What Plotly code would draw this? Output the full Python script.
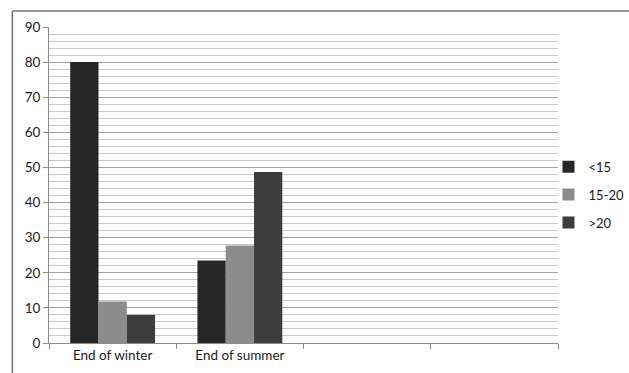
import plotly.graph_objects as go

categories = ["End of winter", "End of summer", " ", "  "]
series_names = ["<15", "15-20", ">20"]
values_lt15 = [80, 23.5]
values_15_20 = [11.8, 27.8]
values_gt20 = [8, 48.7]
colors = ["#262626", "#8c8c8c", "#3d3d3d"]
y_ticks = list(range(0, 100, 10))

fig = go.Figure()
for i, (name, vals) in enumerate(zip(series_names, [values_lt15, values_15_20, values_gt20])):
    fig.add_trace(go.Bar(
        x=categories[:len(vals)], y=vals, name=name,
        marker=dict(color=colors[i], line=dict(width=0)),
        legendgroup=name,
    ))

fig.update_layout(
    width=629, height=373,
    margin=dict(l=49, r=71, t=27, b=30, autoexpand=False),
    paper_bgcolor="white", plot_bgcolor="white",
    barmode="group", bargap=0.333, bargroupgap=0,
    font=dict(family="Lato, Open Sans, sans-serif", size=13.5, color="#1a1a1a"),
    legend=dict(xref="container", yref="container", x=0.872, y=0.478,
                xanchor="left", yanchor="middle",
                font=dict(size=13, color="#1a1a1a"), tracegroupgap=8,
                itemwidth=30, bgcolor="rgba(0,0,0,0)"),
    xaxis=dict(type="category", categoryorder="array", categoryarray=categories,
               range=[-0.5, 3.5], showline=True, linecolor="#8a8a8a", linewidth=1,
               ticks="outside", ticklen=5, tickcolor="#8a8a8a", tickson="boundaries",
               showgrid=False, tickfont=dict(size=13.5, color="#1a1a1a")),
    yaxis=dict(range=[0, 90], tickvals=y_ticks, showline=True, linecolor="#8a8a8a",
               linewidth=1, ticks="outside", ticklen=5, tickcolor="#8a8a8a",
               showgrid=True, gridcolor="#a0a0a0", gridwidth=1,
               minor=dict(dtick=2, showgrid=True, gridcolor="#c8c8c8", gridwidth=1),
               zeroline=False, tickfont=dict(size=13.5, color="#1a1a1a")),
    shapes=[
        dict(type="line", xref="paper", yref="paper", x0=-0.072, x1=1.2, y0=1.051, y1=1.051,
             line=dict(color="#707070", width=1.5)),
        dict(type="line", xref="paper", yref="paper", x0=-0.072, x1=-0.072, y0=1.051, y1=-0.2,
             line=dict(color="#707070", width=1.5)),
    ],
)

fig.write_html("out.html", config={"displayModeBar": False},
               post_script="document.body.style.margin='0';")
